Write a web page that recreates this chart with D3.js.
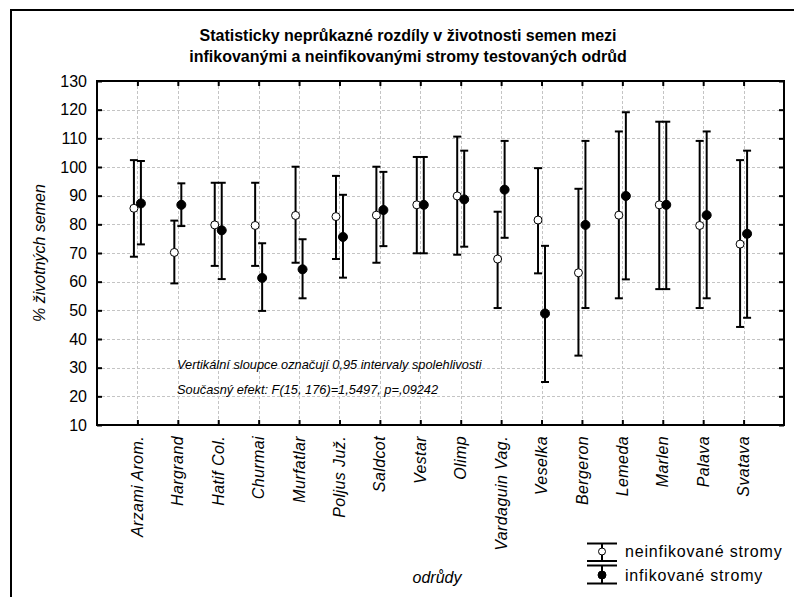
<!DOCTYPE html>
<html>
<head>
<meta charset="utf-8">
<script src="https://cdn.jsdelivr.net/npm/d3@7"></script>
<style>
  html, body { margin: 0; padding: 0; background: #fff; }
  svg { display: block; font-family: "Liberation Sans", Arial, sans-serif; }
</style>
</head>
<body>
<svg id="chart" width="794" height="597"></svg>
<script>
// Varieties (odrůdy)
const categories = ["Arzami Arom.", "Hargrand", "Hatif Col.", "Churmai", "Murfatlar", "Poljus Juž.",
  "Saldcot", "Vestar", "Olimp", "Vardaguin Vag.", "Veselka", "Bergeron", "Lemeda", "Marlen", "Palava", "Svatava"];

// Non-infected trees: mean and 95% confidence limits
const uninfMean = [85.6, 70.2, 79.8, 79.6, 83.1, 82.7, 83.2, 86.8, 89.9, 67.9, 81.5, 63.1, 83.2, 86.8, 79.6, 73.1];
const uninfLow  = [68.7, 59.4, 65.5, 65.5, 66.6, 67.9, 66.6, 69.9, 69.4, 50.8, 62.9, 34.2, 54.2, 57.4, 50.8, 44.2];
const uninfHigh = [102.4, 81.3, 94.5, 94.5, 100.1, 96.9, 100.1, 103.5, 110.6, 84.4, 99.6, 92.4, 112.4, 115.8, 109.1, 102.4];

// Infected trees: mean and 95% confidence limits
const infMean = [87.3, 86.8, 77.9, 61.3, 64.3, 75.6, 85.0, 86.8, 88.7, 92.1, 48.9, 79.8, 89.9, 86.8, 83.2, 76.7];
const infLow  = [73.0, 79.4, 60.9, 49.8, 54.2, 61.4, 72.4, 69.9, 72.2, 75.3, 25.0, 50.8, 60.8, 57.4, 54.2, 47.4];
const infHigh = [102.1, 94.3, 94.5, 73.4, 74.8, 90.3, 98.3, 103.5, 105.7, 109.1, 72.5, 109.1, 119.1, 115.8, 112.4, 105.7];

const yTicks = [10, 20, 30, 40, 50, 60, 70, 80, 90, 100, 110, 120, 130];

const seriesNames = ["neinfikované stromy", "infikované stromy"];
const titleLines = ["Statisticky neprůkazné rozdíly v  životnosti semen mezi",
                    "infikovanými a neinfikovanými stromy testovaných odrůd"];
const noteLines = ["Vertikální sloupce označují 0,95 intervaly spolehlivosti",
                   "Současný efekt: F(15, 176)=1,5497, p=,09242"];

const svg = d3.select("#chart");
const plot = { left: 97, right: 784, top: 81, bottom: 425 };

const x = d3.scalePoint().domain(categories).range([plot.left, plot.right]).padding(1);
const y = d3.scaleLinear().domain([10, 130]).range([plot.bottom, plot.top]);

// outer frame
svg.append("path")
  .attr("d", "M11,597V10H794")
  .attr("fill", "none").attr("stroke", "#000").attr("stroke-width", 2);

// title
svg.append("text")
  .attr("x", 408).attr("y", 41)
  .attr("text-anchor", "middle")
  .attr("font-size", 16).attr("font-weight", "bold")
  .selectAll("tspan").data(titleLines).join("tspan")
  .attr("x", 408).attr("dy", (d, i) => i === 0 ? 0 : 21)
  .text(d => d);

// grid
const grid = svg.append("g").attr("stroke", "#c4c4c4").attr("stroke-width", 1).attr("stroke-dasharray", "3,2");
grid.selectAll("line.h").data(yTicks.slice(1, -1)).join("line")
  .attr("x1", plot.left).attr("x2", plot.right)
  .attr("y1", d => Math.round(y(d)) + 0.5).attr("y2", d => Math.round(y(d)) + 0.5);
grid.selectAll("line.v").data(categories).join("line")
  .attr("y1", plot.top).attr("y2", plot.bottom)
  .attr("x1", d => Math.round(x(d)) + 0.5).attr("x2", d => Math.round(x(d)) + 0.5);

// axes with inward ticks
const axisStyle = g => {
  g.select(".domain").remove();
  g.selectAll(".tick line").attr("stroke", "#000").attr("stroke-width", 2);
};
svg.append("g").attr("transform", `translate(${plot.left},0)`)
  .call(d3.axisLeft(y).tickValues(yTicks).tickSize(-5).tickPadding(10))
  .call(axisStyle)
  .call(g => g.selectAll("text").attr("font-size", 16).attr("fill", "#000")
    .attr("font-family", "Liberation Sans, Arial, sans-serif"));
svg.append("g").attr("transform", `translate(${plot.right},0)`)
  .call(d3.axisRight(y).tickValues(yTicks).tickSize(-5).tickFormat(""))
  .call(axisStyle);
svg.append("g").attr("transform", `translate(0,${plot.top})`)
  .call(d3.axisTop(x).tickSize(-5).tickFormat(""))
  .call(axisStyle);
svg.append("g").attr("transform", `translate(0,${plot.bottom})`)
  .call(d3.axisBottom(x).tickSize(-5).tickFormat(""))
  .call(axisStyle);

// plot border
svg.append("rect")
  .attr("x", plot.left).attr("y", plot.top)
  .attr("width", plot.right - plot.left).attr("height", plot.bottom - plot.top)
  .attr("fill", "none").attr("stroke", "#000").attr("stroke-width", 2);

// category labels
svg.append("g").selectAll("text").data(categories).join("text")
  .attr("transform", d => `translate(${x(d)},436) rotate(-90)`)
  .attr("dy", "0.35em")
  .attr("text-anchor", "end")
  .attr("font-size", 16).attr("font-style", "italic").attr("letter-spacing", 0.4)
  .text(d => d);

// axis titles
svg.append("text")
  .attr("transform", `translate(45,${(plot.top + plot.bottom) / 2}) rotate(-90)`)
  .attr("text-anchor", "middle")
  .attr("font-size", 16).attr("font-style", "italic")
  .text("% životných semen");
svg.append("text")
  .attr("x", 437).attr("y", 583)
  .attr("text-anchor", "middle")
  .attr("font-size", 16).attr("font-style", "italic")
  .text("odrůdy");

// note inside the plot
svg.append("g").selectAll("text").data(noteLines).join("text")
  .attr("x", 177).attr("y", (d, i) => 369 + i * 25)
  .attr("font-size", 12.8).attr("font-style", "italic")
  .text(d => d);

// error bars with means
function drawSeries(mean, low, high, offset, filled) {
  const g = svg.append("g");
  const rows = categories.map((c, i) => ({ c, m: mean[i], lo: low[i], hi: high[i] }));
  const cx = d => x(d.c) + offset;
  const bars = g.selectAll("g").data(rows).join("g");
  bars.append("line")
    .attr("x1", cx).attr("x2", cx)
    .attr("y1", d => y(d.lo)).attr("y2", d => y(d.hi))
    .attr("stroke", "#000").attr("stroke-width", 2);
  ["lo", "hi"].forEach(k => {
    bars.append("line")
      .attr("x1", d => cx(d) - 4).attr("x2", d => cx(d) + 4)
      .attr("y1", d => y(d[k])).attr("y2", d => y(d[k]))
      .attr("stroke", "#000").attr("stroke-width", 2);
  });
  bars.append("circle")
    .attr("cx", cx).attr("cy", d => y(d.m))
    .attr("r", filled ? 4.5 : 4)
    .attr("fill", filled ? "#000" : "#fff")
    .attr("stroke", "#000").attr("stroke-width", 1);
}
drawSeries(uninfMean, uninfLow, uninfHigh, -3.5, false);
drawSeries(infMean, infLow, infHigh, 3.5, true);

// legend
const legend = svg.append("g");
const legendRows = [
  { name: seriesNames[0], top: 543.5, mid: 551.5, bottom: 561, filled: false },
  { name: seriesNames[1], top: 565.5, mid: 575, bottom: 583.5, filled: true }
];
legendRows.forEach(r => {
  legend.append("line").attr("x1", 602).attr("x2", 602).attr("y1", r.top).attr("y2", r.bottom)
    .attr("stroke", "#000").attr("stroke-width", 2);
  [r.top, r.bottom].forEach(v => legend.append("line")
    .attr("x1", 587).attr("x2", 617).attr("y1", v).attr("y2", v)
    .attr("stroke", "#000").attr("stroke-width", 2));
  legend.append("circle").attr("cx", 602).attr("cy", r.mid).attr("r", r.filled ? 4 : 3.5)
    .attr("fill", r.filled ? "#000" : "#fff").attr("stroke", "#000").attr("stroke-width", 1);
  legend.append("text").attr("x", 625).attr("y", r.mid + 5.5)
    .attr("font-size", 16).attr("letter-spacing", 0.8)
    .text(r.name);
});
</script>
</body>
</html>
